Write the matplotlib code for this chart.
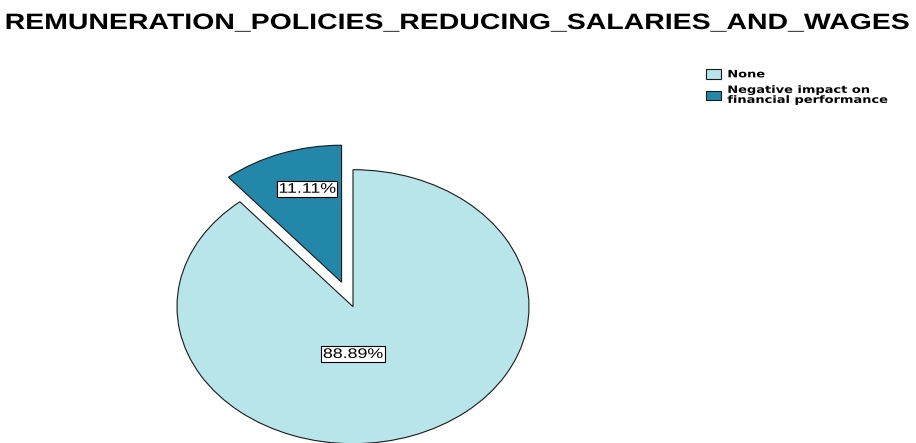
import numpy as np
import matplotlib
matplotlib.use('Agg')
import matplotlib.pyplot as plt
from matplotlib import patheffects
from matplotlib.transforms import Affine2D

# data
title = 'REMUNERATION_POLICIES_REDUCING_SALARIES_AND_WAGES'
categories = ['None', 'Negative impact on\nfinancial performance']
shares = [88.89, 11.11]

# style
colors = ['#b8e5ea', '#2287a8']
explode = [0.0, 0.19]
label_radius = [0.345, 0.71]   # fraction of pie radius, from wedge centre
label_angle = [-90, 106]       # degrees
STRETCH = 1.28                 # the whole chart is drawn wide, text included

W, H = 916, 443
pie_cx, pie_cy = 353, 443 - 306.7   # pixels, from bottom-left
rx, ry = 176, 137                   # pie semi-axes in pixels
lim = 1.3


class Widen(patheffects.AbstractPathEffect):
    """Stretch a drawn path horizontally about its left edge or its centre."""

    def __init__(self, sx=STRETCH, anchor='center'):
        super().__init__()
        self.sx = sx
        self.anchor = anchor

    def draw_path(self, renderer, gc, tpath, affine, rgbFace=None):
        if self.anchor == 'left':
            cx = affine.get_matrix()[0, 2]
        else:
            ext = tpath.get_extents(affine)
            cx = 0.5 * (ext.x0 + ext.x1)
        widen = Affine2D().translate(-cx, 0).scale(self.sx, 1).translate(cx, 0)
        renderer.draw_path(gc, tpath, affine + widen, rgbFace)


fig = plt.figure(figsize=(W / 100, H / 100), dpi=100)

ax = fig.add_axes([(pie_cx - lim * rx) / W, (pie_cy - lim * ry) / H,
                   2 * lim * rx / W, 2 * lim * ry / H])
wedges, _, autotexts = ax.pie(
    shares, colors=colors, explode=explode, startangle=90, counterclock=False,
    autopct='%.2f%%', labels=None,
    wedgeprops=dict(edgecolor='#1a1a1a', linewidth=0.8),
    textprops=dict(family='Liberation Sans', size=10, color='black'))
ax.set_aspect('auto')
ax.set_xlim(-lim, lim)
ax.set_ylim(-lim, lim)
ax.axis('off')

for w, t, r, a in zip(wedges, autotexts, label_radius, label_angle):
    cx, cy = w.center
    t.set_position((cx + r * np.cos(np.radians(a)), cy + r * np.sin(np.radians(a))))
    t.set_ha('center')
    t.set_va('center')
    t.set_bbox(dict(boxstyle='square,pad=0.08', facecolor='white',
                    edgecolor='black', linewidth=0.8))
    t.set_path_effects([Widen()])
    t.get_bbox_patch().set_path_effects([Widen()])

ttl = fig.text(0.5, 1 - 29 / H, title, ha='center', va='baseline',
               family='Liberation Sans', weight='bold', size=16)
ttl.set_path_effects([Widen()])

leg = fig.legend(wedges, categories, loc='upper left',
                 bbox_to_anchor=(706 / W, 1 - 69 / H), frameon=False,
                 borderpad=0, borderaxespad=0, handlelength=1.45,
                 handleheight=1.1, handletextpad=0.65, labelspacing=0.55,
                 prop=dict(family='DejaVu Sans', weight='bold', size=7.3))
for t in leg.get_texts():
    t.set_linespacing(1.0)
    t.set_path_effects([Widen(anchor='left')])

fig.savefig('out.png', dpi=100)
